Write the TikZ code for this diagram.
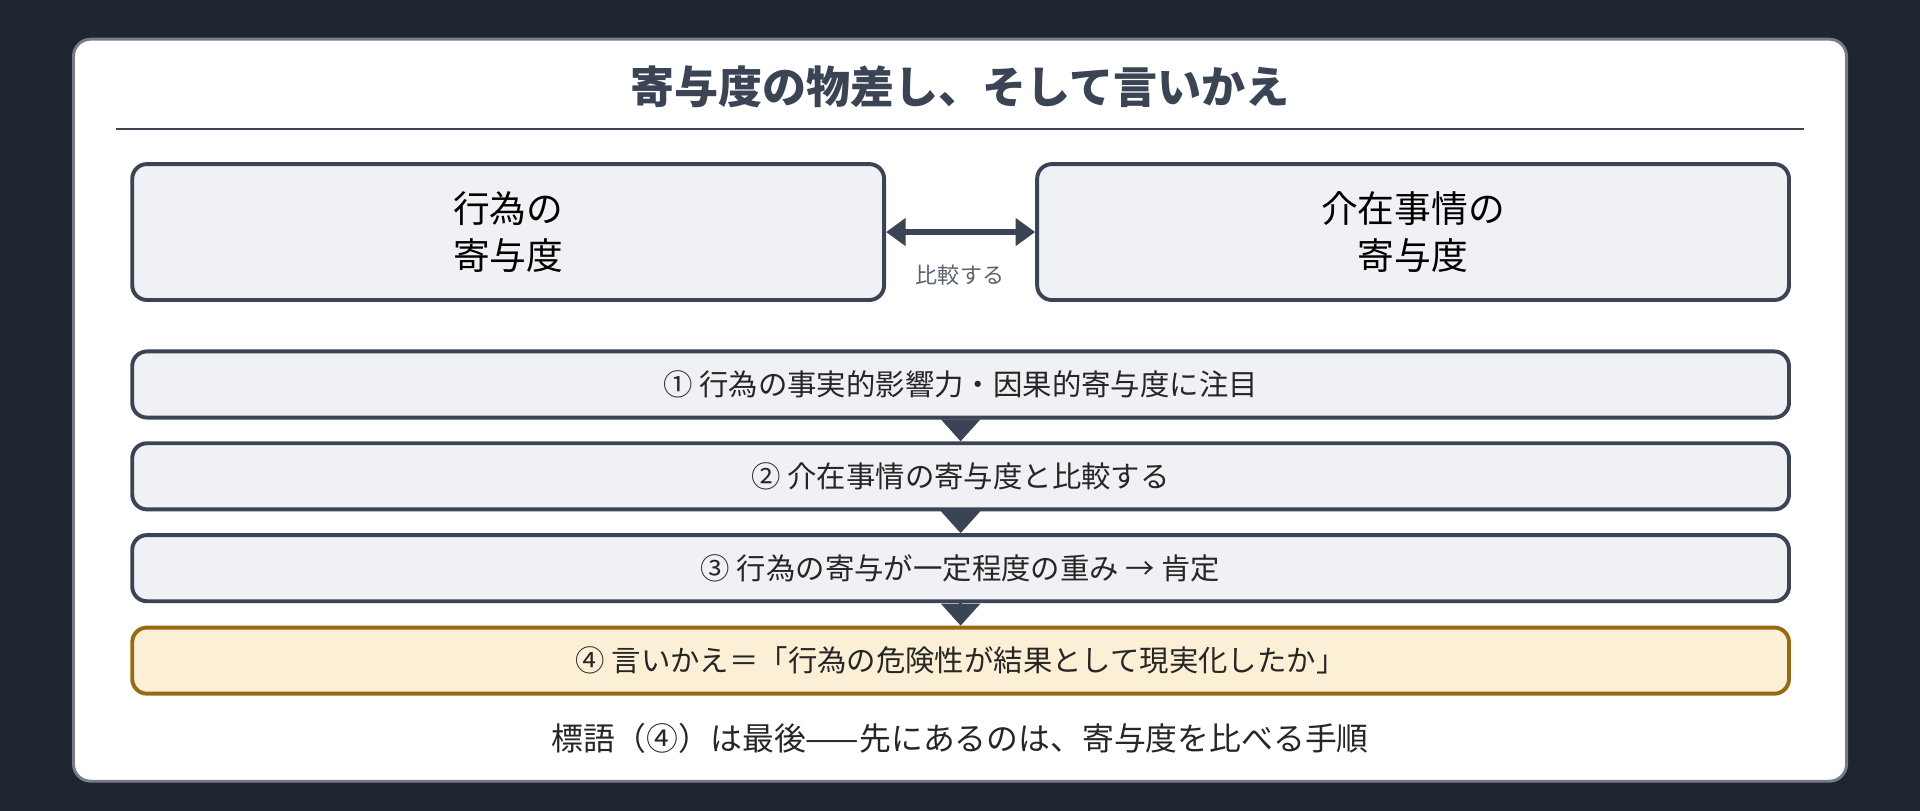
\documentclass[tikz,border=0pt]{standalone}
\usepackage{fontspec}
\setmainfont{Noto Sans CJK JP}
\usetikzlibrary{arrows.meta, positioning}
\definecolor{pagebg}{HTML}{1E2530}
\definecolor{inkdark}{HTML}{3A4454}
\definecolor{boxfill}{HTML}{EFF1F5}
\definecolor{goldfill}{HTML}{FBF0D6}
\definecolor{goldline}{HTML}{9A6A10}
\definecolor{labelgray}{HTML}{5A6270}
\tikzset{
    px/.style={x=0.5pt, y=-0.5pt},
    panel/.style={draw=inkdark, line width=1.6pt, fill=boxfill, rounded corners=6pt},
    stepbox/.style={panel, minimum width=676.5pt, minimum height=27pt, font=\fontsize{12}{14}\selectfont, text=black!85},
    flow/.style={-{Triangle[width=16pt, length=9pt]}, draw=inkdark, line width=1pt}
}
\begin{document}
\begin{tikzpicture}[px]
    \useasboundingbox (0,0) rectangle (1568,662);
    \fill[pagebg] (0,0) rectangle (1568,662);
    % card
    \draw[fill=white, draw=inkdark!70, line width=1.2pt, rounded corners=7pt] (60,32) rectangle (1508,638);
    \node (title) at (784,71) {\fontsize{18}{20}\selectfont\bfseries\color{inkdark}寄与度の物差し、そして言いかえ};
    \draw[inkdark, line width=0.8pt] (95,105) -- (1473,105);
    % the two contributions
    \node[panel, minimum width=307pt, minimum height=55.5pt, align=center, font=\fontsize{15}{19}\selectfont] (act) at (415,189.5) {行為の\\寄与度};
    \node[panel, minimum width=307pt, minimum height=55.5pt, align=center, font=\fontsize{15}{19}\selectfont] (other) at (1154,189.5) {介在事情の\\寄与度};
    \draw[{Triangle[width=11pt, length=8pt]}-{Triangle[width=11pt, length=8pt]}, inkdark, line width=2.2pt] (act.east) -- (other.west);
    \node[text=labelgray, font=\fontsize{9}{11}\selectfont] (cmplabel) at (784,225) {比較する};
    % steps
    \node[stepbox] (s1) at (784.5,314) {① 行為の事実的影響力・因果的寄与度に注目};
    \node[stepbox] (s2) at (784.5,389) {② 介在事情の寄与度と比較する};
    \node[stepbox] (s3) at (784.5,464) {③ 行為の寄与が一定程度の重み → 肯定};
    \node[stepbox, fill=goldfill, draw=goldline] (s4) at (784.5,539.5) {④ 言いかえ＝「行為の危険性が結果として現実化したか」};
    \draw[flow] (s1) -- (s2);
    \draw[flow] (s2) -- (s3);
    \draw[flow] (s3) -- (s4);
    \node[font=\fontsize{13}{15}\selectfont, text=black!85] (note) at (784,603) {標語（④）は最後——先にあるのは、寄与度を比べる手順};
\end{tikzpicture}
\end{document}
